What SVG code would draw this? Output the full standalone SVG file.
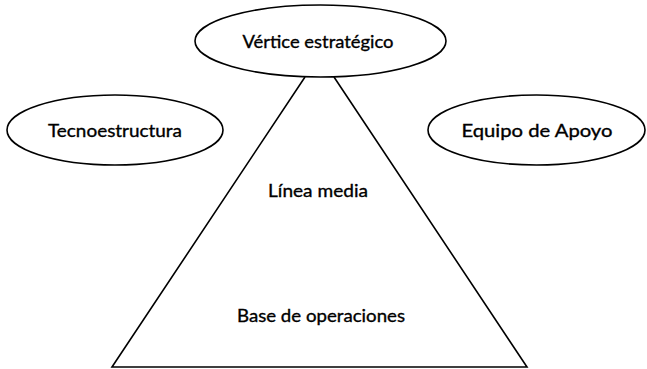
<svg xmlns="http://www.w3.org/2000/svg" width="647" height="369" viewBox="0 0 647 369">
<style>
.e{fill:#fff;stroke:#000;stroke-width:1.6}
.l{fill:none;stroke:#000;stroke-width:1.6}
text{font-family:Lato,"Open Sans","Liberation Sans",sans-serif;font-size:18px;fill:#000;stroke:#000;stroke-width:0.35;text-anchor:middle}
</style>
<rect width="647" height="369" fill="#fff"/>
<g id="connectors">
<polyline class="l" points="305,77 112,367 527,367 334,77"/>
</g>
<g id="vertice">
<ellipse class="e" cx="320.5" cy="41" rx="125.5" ry="36"/>
<text x="318" y="48" textLength="151" lengthAdjust="spacingAndGlyphs">Vértice estratégico</text>
</g>
<g id="tecnoestructura">
<ellipse class="e" cx="115" cy="130" rx="108" ry="35"/>
<text x="115" y="137" textLength="134" lengthAdjust="spacingAndGlyphs">Tecnoestructura</text>
</g>
<g id="apoyo">
<ellipse class="e" cx="536.5" cy="130" rx="108.5" ry="35"/>
<text x="537" y="137" textLength="151" lengthAdjust="spacingAndGlyphs">Equipo de Apoyo</text>
</g>
<g id="linea-media">
<text x="318" y="197" textLength="100" lengthAdjust="spacingAndGlyphs">Línea media</text>
</g>
<g id="base">
<text x="321" y="322" textLength="168" lengthAdjust="spacingAndGlyphs">Base de operaciones</text>
</g>
</svg>
